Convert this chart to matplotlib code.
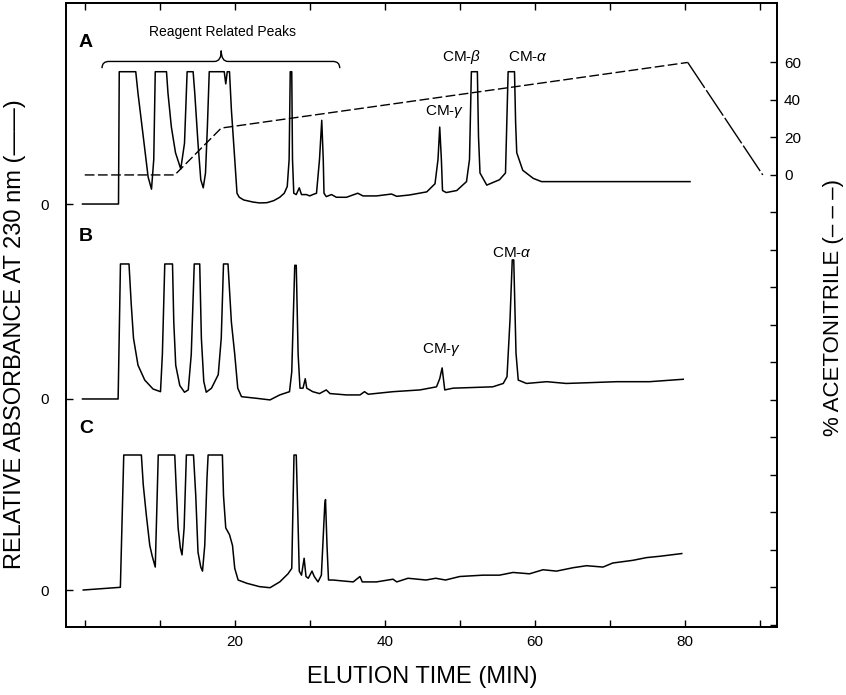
import numpy as np
import matplotlib
matplotlib.use('Agg')
import matplotlib.pyplot as plt
from matplotlib.path import Path
from matplotlib.patches import PathPatch

plt.rcParams['font.family'] = ['Liberation Sans', 'DejaVu Sans']
plt.rcParams['mathtext.fontset'] = 'custom'
plt.rcParams['mathtext.rm'] = 'Liberation Sans'
plt.rcParams['mathtext.it'] = 'Liberation Sans:italic'

# traces: elution time (min), relative absorbance
# (1.0 = detector saturation plateau)
a_time = [-0.3, 4.5, 4.6, 6.8, 7.1, 7.8, 8.45, 8.9, 9.2, 9.4, 10.9, 11.1, 11.55, 12.1,
          12.8, 13.3, 13.65, 14.45, 14.67, 15.1, 15.47, 15.8, 16.1, 16.35, 16.6, 18.6,
          18.8, 19.0, 19.3, 19.55, 20.0, 20.3, 20.6, 21.2, 22.4, 23.3, 24.3, 25.2, 26.0,
          26.6, 27.0, 27.25,
          27.4, 27.6, 27.7, 27.87, 28.2, 28.6, 28.9, 29.55, 30.0, 30.4, 30.9, 31.3, 31.6,
          31.8, 31.9, 32.2, 32.9, 33.55, 34.9, 36.4, 37.1, 38.9, 40.9, 41.6, 43.3, 45.6,
          46.7, 47.1, 47.33, 47.55, 47.7, 48.2, 49.6, 50.9, 51.3, 51.55, 52.35, 52.5,
          52.7, 53.6, 55.3, 56.1, 56.45, 57.3, 57.45, 57.6, 58.4, 59.8, 60.9, 80.7]
a_abs = [0, 0, 0.98, 0.98, 0.82, 0.50, 0.20, 0.11, 0.33, 0.98, 0.98, 0.82, 0.57, 0.38,
         0.26, 0.45, 0.98, 0.98, 0.82, 0.45, 0.18, 0.12, 0.23, 0.57, 0.98, 0.98,
         0.89, 0.98, 0.98, 0.70, 0.33, 0.08, 0.05, 0.03, 0.015, 0.008, 0.01, 0.025, 0.05,
         0.08, 0.13, 0.33,
         0.98, 0.98, 0.33, 0.08, 0.07, 0.12, 0.07, 0.07, 0.06, 0.07, 0.08, 0.33, 0.62,
         0.33, 0.08, 0.055, 0.07, 0.05, 0.05, 0.08, 0.06, 0.06, 0.074, 0.057, 0.067, 0.09,
         0.15, 0.33, 0.57, 0.33, 0.10, 0.085, 0.10, 0.166, 0.33, 0.98, 0.98, 0.5,
         0.23, 0.14, 0.18, 0.23, 0.98, 0.98, 0.6, 0.38, 0.25, 0.19, 0.166, 0.166]

b_time = [-0.3, 4.45, 4.76, 5.9, 6.2, 6.5, 7.1, 8.0, 9.1, 10.1, 10.35, 10.67, 11.7, 11.87,
          12.13, 12.67, 13.3, 13.8, 14.2, 14.6, 15.33, 15.55, 15.87, 16.2, 16.9, 17.8,
          18.2, 18.5, 19.1, 19.55, 20.0, 20.4, 20.9, 22.9, 24.7, 26.0, 27.3, 27.6, 28.0,
          28.2, 28.45, 28.7, 29.1, 29.4, 29.6, 30.4, 31.3, 32.2, 32.7, 34.9, 36.7, 37.3,
          37.8, 41.1, 44.7, 46.9, 47.33, 47.65, 48.0, 49.1, 54.4, 55.8, 56.3, 56.7, 57.0,
          57.2, 57.5, 57.8, 58.9, 61.6, 64.2, 66.9, 70.9, 75.3, 79.8]
b_abs = [0, 0, 1.0, 1.0, 0.70, 0.45, 0.25, 0.14, 0.074, 0.054, 0.33, 1.0, 1.0, 0.57,
         0.25, 0.10, 0.05, 0.067, 0.33, 1.0, 1.0, 0.45, 0.13, 0.05, 0.08, 0.18,
         0.45, 1.0, 1.0, 0.57, 0.33, 0.08, 0.017, 0.005, -0.007, 0.03, 0.054, 0.20, 0.99,
         0.99, 0.33, 0.08, 0.08, 0.15, 0.08, 0.054, 0.04, 0.067, 0.04, 0.03, 0.03, 0.054,
         0.035, 0.054, 0.067, 0.09, 0.15, 0.23, 0.067, 0.08, 0.09, 0.115, 0.165, 0.585, 1.03,
         1.03, 0.34, 0.14, 0.115, 0.128, 0.115, 0.12, 0.128, 0.128, 0.146]

c_time = [-0.2, 4.75, 5.2, 7.55, 7.8, 8.2, 8.67, 9.0, 9.4, 9.6, 9.8, 12.0, 12.2, 12.45,
          12.75, 12.97, 13.25, 13.55, 14.5, 14.8, 15.1, 15.47, 15.7, 16.0, 16.3, 16.45,
          18.35, 18.5, 18.8, 19.3, 19.7, 20.0, 20.45, 21.6, 23.3, 24.7, 26.0, 27.1, 27.6,
          27.9, 28.2, 28.4, 28.6, 28.9, 29.25, 29.5, 29.8, 30.3, 30.6, 31.1, 31.55, 32.0,
          32.1, 32.3, 32.5, 33.1, 34.4, 35.8, 36.7, 37.0, 38.9, 41.1, 41.6, 43.1, 45.5,
          46.8, 48.1, 50.0, 53.1, 55.3, 57.1, 59.3, 61.1, 62.9, 65.1, 66.9, 69.1, 70.4,
          73.1, 74.9, 76.7, 79.6]
c_abs = [0, 0.02, 1.0, 1.0, 0.78, 0.56, 0.33, 0.25, 0.17, 0.58, 1.0, 1.0, 0.75, 0.46,
         0.31, 0.26, 0.46, 1.0, 1.0, 0.70, 0.28, 0.17, 0.14, 0.33, 0.83, 1.0,
         1.0, 0.70, 0.46, 0.41, 0.33, 0.16, 0.074, 0.05, 0.025, 0.017, 0.06, 0.12, 0.16,
         1.0, 1.0, 0.58, 0.14, 0.11, 0.235, 0.10, 0.087, 0.14, 0.10, 0.06, 0.11, 0.63,
         0.67, 0.33, 0.074, 0.074, 0.067, 0.06, 0.10, 0.06, 0.06, 0.08, 0.06, 0.087, 0.074,
         0.087, 0.074, 0.10, 0.11, 0.11, 0.13, 0.12, 0.15, 0.14, 0.165, 0.18, 0.17, 0.20,
         0.22, 0.24, 0.25, 0.27]

# acetonitrile gradient (%)
grad_time = [0, 12, 18.2, 80.4]
grad_pct = [0, 0, 25, 60]
wash_time = [80.4, 90.4]
wash_pct = [60, 0]

panels = ['A', 'B', 'C']
offsets = [2.859, 1.415, 0.0]   # baseline of each trace on the left axis
traces = [(a_time, a_abs), (b_time, b_abs), (c_time, c_abs)]

fig = plt.figure(figsize=(8.46, 6.95), dpi=100)
ax = fig.add_axes([66/846, 68/695, 711/846, 624/695])

for (t, y), off in zip(traces, offsets):
    ax.plot(t, np.array(y) + off, color='black', lw=1.1)

ax.set_xlim(-2.5, 92.3)
ax.set_ylim(-0.274, 4.348)
ax.set_xticks(range(0, 91, 10))
ax.set_xticklabels(['' if v % 20 or v == 0 else str(v) for v in range(0, 91, 10)])
ax.set_yticks(offsets)
ax.set_yticklabels(['0'] * 3)
ax.tick_params(axis='x', direction='in', top=True, length=5, width=1, labelsize=11, pad=6)
ax.tick_params(axis='y', direction='in', length=5, width=1, labelsize=11, pad=12)
for s in ax.spines.values():
    s.set_linewidth(1.3)

# panel letters
for name, off in zip(panels, offsets):
    ax.text(-0.8, off + 1.2, name, fontsize=14, fontweight='bold', ha='left', va='center')

# peak labels
ax.text(50.3, 3.948, r'CM-$\beta$', fontsize=11, ha='center', va='center')
ax.text(59.1, 3.948, r'CM-$\alpha$', fontsize=11, ha='center', va='center')
ax.text(48.0, 3.541, r'CM-$\gamma$', fontsize=11, ha='center', va='center')
ax.text(56.9, 2.496, r'CM-$\alpha$', fontsize=11, ha='center', va='center')
ax.text(47.6, 1.778, r'CM-$\gamma$', fontsize=11, ha='center', va='center')

# curly brace over the reagent peaks
x0, x1, xm = 2.3, 34.0, 18.2
yb, hook, tip, d = 3.915, 0.05, 0.08, 0.9
verts = [(x0, yb - hook), (x0, yb), (x0 + d, yb),
         (xm - d, yb),
         (xm, yb), (xm, yb + tip),
         (xm, yb), (xm + d, yb),
         (x1 - d, yb),
         (x1, yb), (x1, yb - hook)]
codes = [Path.MOVETO, Path.CURVE3, Path.CURVE3, Path.LINETO, Path.CURVE3, Path.CURVE3,
         Path.CURVE3, Path.CURVE3, Path.LINETO, Path.CURVE3, Path.CURVE3]
ax.add_patch(PathPatch(Path(verts, codes), fill=False, lw=1.0, color='black'))
ax.text(18.3, 4.133, 'Reagent Related Peaks', fontsize=10, ha='center', va='center')

# gradient on right axis
ax2 = ax.twinx()
ax2.plot(grad_time, grad_pct, color='black', lw=1.0, dashes=(7, 2.5))
ax2.plot(wash_time, wash_pct, color='black', lw=1.0, dashes=(22, 2))
ax2.set_ylim(-241.1, 91.7)
rt = list(range(-240, 61, 20))
ax2.set_yticks(rt)
ax2.set_yticklabels([str(v) if v >= 0 else '' for v in rt])
ax2.tick_params(axis='y', direction='in', length=5, width=1, labelsize=11, pad=5)
for s in ax2.spines.values():
    s.set_linewidth(1.3)

fig.text(15/846, 1 - 334/695, 'RELATIVE ABSORBANCE AT 230 nm (——)', rotation=90,
         fontsize=17, ha='center', va='center')
fig.text(833/846, 1 - 308/695, '% ACETONITRILE (– – –)', rotation=90,
         fontsize=16, ha='center', va='center')
fig.text(422/846, 1 - 677/695, 'ELUTION TIME (MIN)', fontsize=17, ha='center', va='center')

fig.savefig('out.png', dpi=100)
